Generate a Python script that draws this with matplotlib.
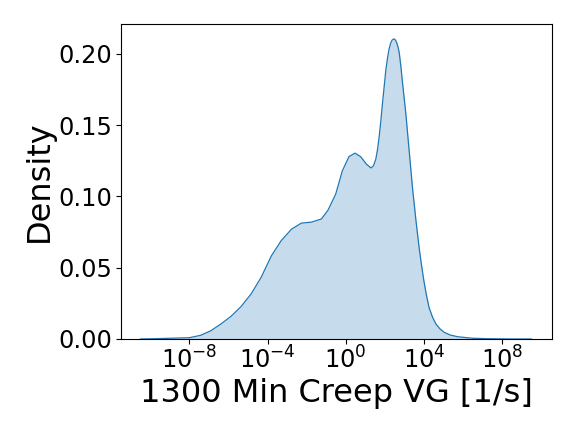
import numpy as np
import matplotlib.pyplot as plt

# log10 of creep rate and density
log_rate = [-10.5, -9.8, -9.0, -8.0, -7.42, -6.9, -6.39, -5.87, -5.36, -4.84, -4.33, -3.8, -3.3, -2.77,
            -2.27, -1.75, -1.24, -0.9, -0.51, -0.17, 0.17, 0.48, 0.77, 1.06, 1.3, 1.42, 1.54, 1.63, 1.71,
            1.8, 1.88, 1.97, 2.05, 2.14, 2.22, 2.3, 2.38, 2.44, 2.5, 2.56, 2.62, 2.68, 2.74, 2.82, 2.9, 2.99,
            3.08, 3.25, 3.42, 3.59, 3.76, 3.88, 4.0, 4.13, 4.27, 4.44, 4.62, 4.82, 5.04, 5.35, 5.73,
            6.5, 7.3, 8.5, 9.5]
density = [0.0, 0.0002, 0.0005, 0.0009, 0.0026, 0.0058, 0.0105, 0.0159, 0.0227, 0.0316, 0.0432, 0.0584, 0.069, 0.0771,
           0.0813, 0.082, 0.0842, 0.0905, 0.1017, 0.118, 0.128, 0.1304, 0.1279, 0.1227, 0.12, 0.1215, 0.126, 0.133, 0.1414,
           0.153, 0.1648, 0.177, 0.188, 0.197, 0.2034, 0.2075, 0.2098, 0.2104, 0.2104, 0.2095, 0.2075, 0.2048, 0.201, 0.192, 0.181, 0.1695,
           0.158, 0.132, 0.106, 0.084, 0.064, 0.052, 0.041, 0.031, 0.022, 0.0155, 0.0105, 0.0072, 0.0047, 0.0028, 0.0016,
           0.0005, 0.0002, 0.0, 0.0]

rate = 10.0 ** np.array(log_rate)

fig, ax = plt.subplots(figsize=(5.76, 4.32), dpi=100)
ax.plot(rate, density, color='C0', linewidth=0.9)
ax.fill_between(rate, density, 0, color='C0', alpha=0.25, linewidth=0)
ax.set_xscale('log')
ax.set_xlim(10 ** -11.5, 10 ** 10.56)
ax.set_ylim(0, 0.221)
ax.set_xticks([1e-8, 1e-4, 1e0, 1e4, 1e8])
ax.minorticks_off()
ax.set_yticks([0.0, 0.05, 0.10, 0.15, 0.20])
ax.set_yticklabels(['0.00', '0.05', '0.10', '0.15', '0.20'])
ax.tick_params(labelsize=17.3)
ax.tick_params(axis='x', pad=2)
ax.tick_params(axis='y', pad=3)
ax.set_xlabel('1300 Min Creep VG [1/s]', fontsize=23, labelpad=3)
ax.set_ylabel('Density', fontsize=23, labelpad=2)
fig.subplots_adjust(left=0.2101, right=0.9583, top=0.9444, bottom=0.2153)
fig.savefig('out.png', dpi=100)
